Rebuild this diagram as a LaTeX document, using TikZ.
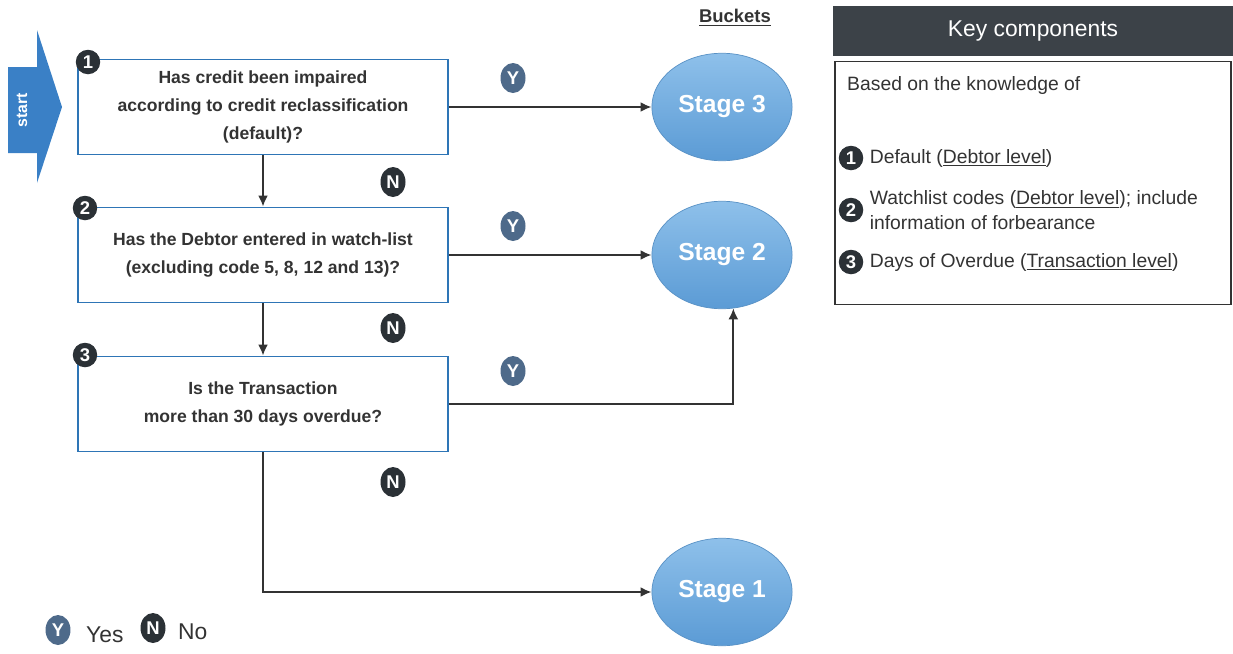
\documentclass[tikz,border=0pt]{standalone}
\usepackage{fontspec}
\setmainfont{Liberation Sans}
\usetikzlibrary{shapes.geometric,arrows.meta}
\definecolor{boxblue}{HTML}{2E75B6}
\definecolor{startblue}{HTML}{3A80C6}
\definecolor{stageblue}{HTML}{5B9BD5}
\definecolor{stagetop}{HTML}{8EC0EA}
\definecolor{ydark}{HTML}{4E6A8A}
\definecolor{ndark}{HTML}{2B3136}
\definecolor{keyhead}{HTML}{3C4248}
\definecolor{inkgray}{HTML}{333333}

\begin{document}
\begin{tikzpicture}[x=0.02cm, y=-0.02cm,
  every node/.style={font=\fontsize{11}{14}\selectfont, text=inkgray},
  question/.style={draw=boxblue, line width=1.1pt, minimum width=7.4cm, minimum height=1.9cm, align=center, fill=white, font=\fontsize{10}{16}\selectfont\bfseries},
  stage/.style={ellipse, draw=boxblue!80, top color=stagetop, bottom color=stageblue, minimum width=2.7cm, minimum height=2.15cm, text=white, font=\fontsize{14}{16}\selectfont\bfseries},
  nummark/.style={circle, fill=ndark, text=white, inner sep=0pt, minimum size=0.49cm, font=\fontsize{10.5}{12}\selectfont\bfseries},
  yesmark/.style={ellipse, fill=ydark, text=white, inner sep=0pt, minimum width=0.5cm, minimum height=0.6cm, font=\fontsize{10.5}{12}\selectfont\bfseries},
  nomark/.style={yesmark, fill=ndark},
  flow/.style={draw=inkgray, line width=1.1pt, -{Latex[length=2.2mm,width=2mm]}}
]
\useasboundingbox (0,0) rectangle (1233,653);

% start arrow
\fill[startblue] (8,67) -- (37,67) -- (37,30) -- (62,107) -- (37,183) -- (37,153) -- (8,153) -- cycle;
\node[rotate=90, text=white, font=\fontsize{9}{10}\selectfont\bfseries] (start) at (22,110) {start};

% questions
\node[question] (q1) at (263,107) {Has credit been impaired\\according to credit reclassification\\(default)?};
\node[question] (q2) at (263,255) {Has the Debtor entered in watch-list\\(excluding code 5, 8, 12 and 13)?};
\node[question] (q3) at (263,404) {Is the Transaction\\more than 30 days overdue?};
\node[nummark] (n1) at (88,62) {1};
\node[nummark] (n2) at (85,208) {2};
\node[nummark] (n3) at (85,355) {3};

% buckets
\node[font=\fontsize{10.5}{12}\selectfont\bfseries] (buckets) at (735,18) {\underline{Buckets}};
\node[stage] (s3) at (722,107) {Stage 3};
\node[stage] (s2) at (722,255) {Stage 2};
\node[stage] (s1) at (722,592) {Stage 1};

% connectors
\draw[flow] (q1) -- (q2);
\draw[flow] (q2) -- (q3);
\draw[flow] (q3) |- (s1);
\draw[flow] (q1) -- (s3);
\draw[flow] (q2) -- (s2);
\draw[flow] (q3) -| (s2.-78);

\node[yesmark] (y1) at (513,78) {Y};
\node[yesmark] (y2) at (513,226) {Y};
\node[yesmark] (y3) at (513,371) {Y};
\node[nomark] (no1) at (393,182) {N};
\node[nomark] (no2) at (393,328) {N};
\node[nomark] (no3) at (393,482) {N};

% key components
\node[fill=keyhead, minimum width=8cm, minimum height=1cm, text=white, font=\fontsize{13}{14}\selectfont] (keyhead) at (1033,31) {Key components};
\node[draw=inkgray, line width=1pt, minimum width=7.92cm, minimum height=4.86cm] (keybox) at (1033,183) {};
\node[anchor=west] (based) at (841,85) {Based on the knowledge of};
\node[nummark] (k1) at (851,158) {1};
\node[anchor=west] (kt1) at (k1.east) {Default (\underline{Debtor level})};
\node[nummark] (k2) at (851,210) {2};
\node[anchor=west, align=left] (kt2) at (k2.east) {Watchlist codes (\underline{Debtor level}); include\\information of forbearance};
\node[nummark] (k3) at (851,262) {3};
\node[anchor=west] (kt3) at (k3.east) {Days of Overdue (\underline{Transaction level})};

% legend
\node[yesmark] (ly) at (58,630) {Y};
\node[anchor=west, font=\fontsize{13}{14}\selectfont] (lyes) at (80,635) {Yes};
\node[nomark] (ln) at (153,628) {N};
\node[anchor=west, font=\fontsize{13}{14}\selectfont] (lno) at (172,632) {No};
\end{tikzpicture}
\end{document}
